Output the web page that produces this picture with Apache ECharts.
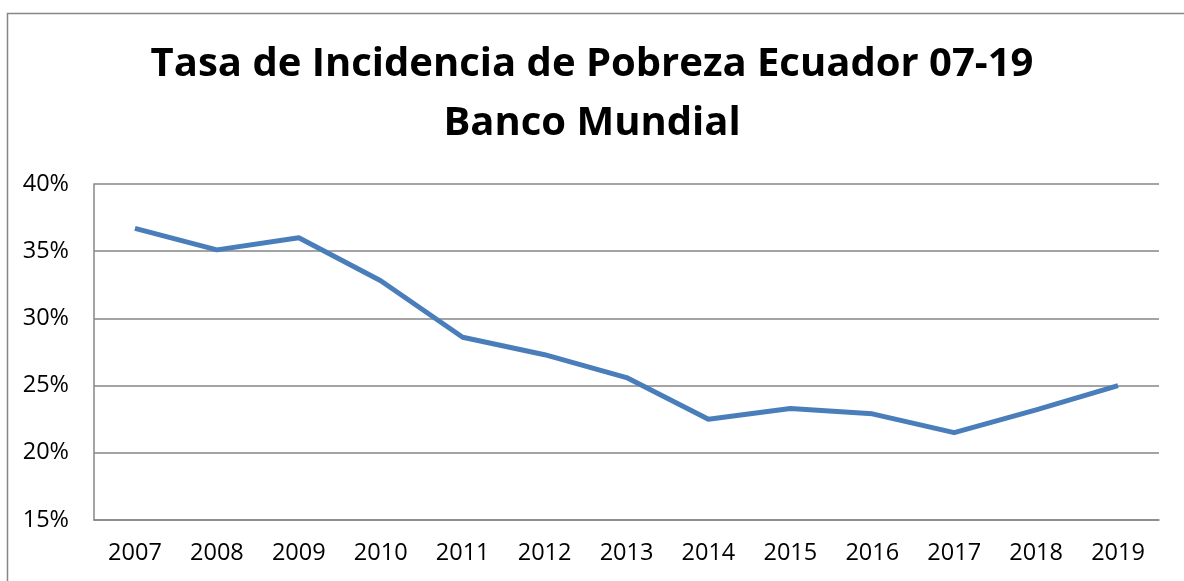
<!DOCTYPE html>
<html>
<head>
<meta charset="utf-8">
<script src="https://cdn.jsdelivr.net/npm/echarts@6/dist/echarts.min.js"></script>
<style>
html,body{margin:0;padding:0;background:#fff;}
#c{width:1184px;height:581px;}
</style>
</head>
<body>
<div id="c"></div>
<script>
const years = ['2007','2008','2009','2010','2011','2012','2013','2014','2015','2016','2017','2018','2019'];
const poverty = [36.7, 35.1, 36.0, 32.8, 28.6, 27.3, 25.6, 22.5, 23.3, 22.9, 21.5, 23.2, 25.0];
const yTicks = {min: 15, max: 40, interval: 5};
const titleText = 'Tasa de Incidencia de Pobreza Ecuador 07-19\nBanco Mundial';

const chart = echarts.init(document.getElementById('c'), null, {renderer: 'canvas'});
chart.setOption({
  animation: false,
  backgroundColor: '#fff',
  graphic: [{
    type: 'rect', left: 5, top: 11, silent: true,
    shape: {x: 0, y: 0, width: 1300, height: 700},
    style: {fill: 'none', stroke: '#868686', lineWidth: 1.5}
  }],
  title: {
    text: titleText,
    left: 'center', top: 30,
    textStyle: {fontFamily: 'Open Sans', fontWeight: 'bold', fontSize: 40, color: '#000', lineHeight: 59}
  },
  grid: {left: 94, right: 25, top: 184, bottom: 61, containLabel: false},
  xAxis: {
    type: 'category', data: years, boundaryGap: true,
    axisLine: {lineStyle: {color: '#868686', width: 1.5}},
    axisTick: {show: false},
    axisLabel: {fontFamily: 'Open Sans', fontSize: 23.5, color: '#000', margin: 21}
  },
  yAxis: {
    type: 'value', min: yTicks.min, max: yTicks.max, interval: yTicks.interval,
    axisLine: {show: true, lineStyle: {color: '#868686', width: 1.5}},
    axisTick: {show: false},
    splitLine: {lineStyle: {color: '#868686', width: 1.5}},
    axisLabel: {fontFamily: 'Open Sans', fontSize: 23.5, color: '#000', margin: 25, formatter: '{value}%'}
  },
  series: [{
    type: 'line', data: poverty, symbol: 'none',
    lineStyle: {color: '#4a7ebb', width: 5, join: 'round'}
  }]
});
</script>
</body>
</html>
